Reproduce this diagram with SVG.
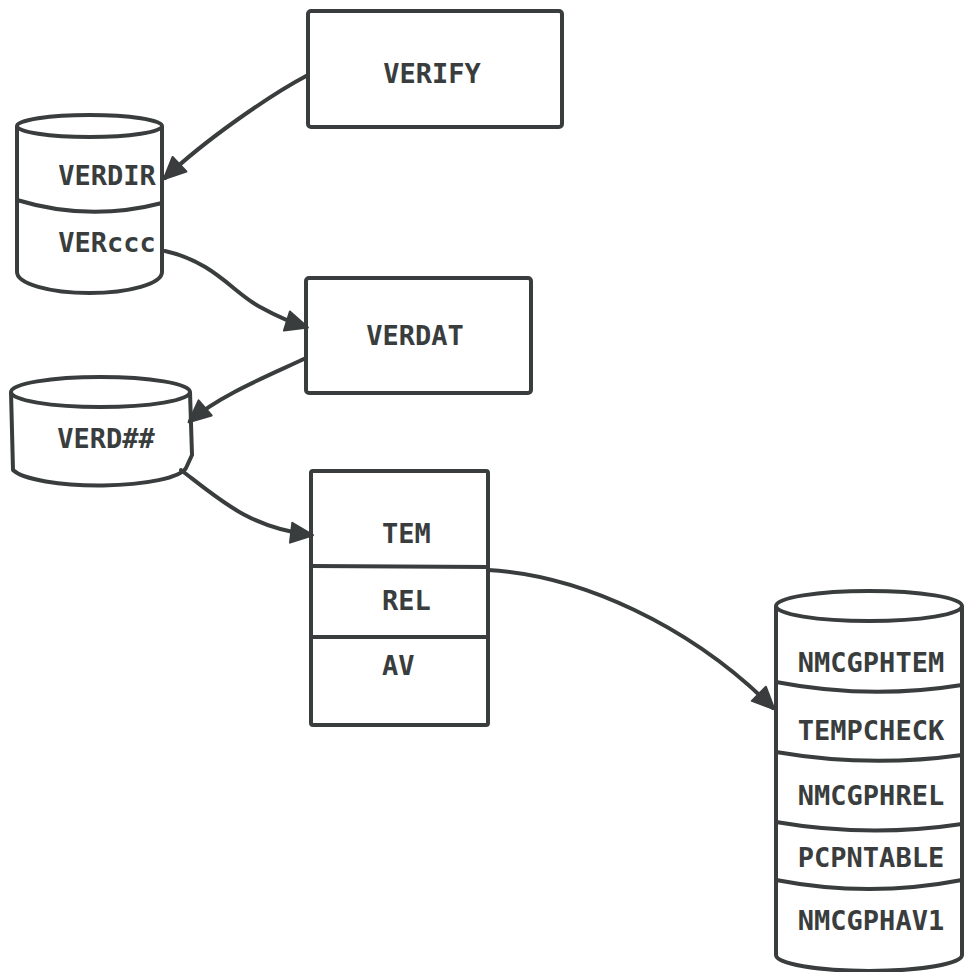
<svg xmlns="http://www.w3.org/2000/svg" width="964" height="972" viewBox="0 0 964 972">
<defs>
<style>
.s{fill:none;stroke:#3a3d3d;stroke-width:4;stroke-linejoin:round;stroke-linecap:round}
.f{fill:#fff;stroke:#3a3d3d;stroke-width:4;stroke-linejoin:round}
.t{font-family:"DejaVu Sans Mono","Liberation Mono",monospace;font-weight:bold;font-size:27px;fill:#3a3d3d}
.c{text-anchor:middle}
</style>
<marker id="ah" markerUnits="userSpaceOnUse" markerWidth="26" markerHeight="24" refX="20" refY="12" orient="auto" overflow="visible">
<path d="M0,2 L22,12 L0,22 Z" fill="#3a3d3d" stroke="#3a3d3d" stroke-width="2" stroke-linejoin="round"/>
</marker>
</defs>
<rect width="964" height="972" fill="#fff"/>

<g id="verify">
<rect class="f" x="308" y="11" width="254" height="116" rx="3"/>
<text class="t c" x="432" y="83">VERIFY</text>
</g>

<g id="verdir">
<path class="f" d="M17,126 L17,272 A72.5 21 0 0 0 162,272 L162,126"/>
<ellipse class="f" cx="89.5" cy="126" rx="72.5" ry="11"/>
<path class="s" d="M17,200 Q89,222 162,203"/>
<text class="t c" x="107" y="185">VERDIR</text>
<text class="t c" x="107" y="252">VERccc</text>
</g>

<g id="verdat">
<rect class="f" x="306" y="278" width="225" height="115" rx="3"/>
<text class="t c" x="415" y="345">VERDAT</text>
</g>

<g id="verdnn">
<path class="f" d="M11,392 L13,470 A88 20 0 0 0 186,468 L192,455 L190,392"/>
<ellipse class="f" cx="100.5" cy="392" rx="89.5" ry="15"/>
<text class="t c" x="106" y="448">VERD##</text>
</g>

<g id="temrelav">
<rect class="f" x="311" y="471" width="177" height="254" rx="2"/>
<path class="s" d="M311,566 L488,567 M311,637 L488,637"/>
<text class="t" x="382" y="543">TEM</text>
<text class="t" x="382" y="610">REL</text>
<text class="t" x="382" y="675">AV</text>
</g>

<g id="nmcgp">
<path class="f" d="M776,606 L776,955 A93 16 0 0 0 962,955 L962,606"/>
<ellipse class="f" cx="869" cy="606" rx="93" ry="15"/>
<path class="s" d="M776,682 Q869,700 962,685 M776,752 Q869,768 962,755 M776,822 Q869,838 962,824 M776,880 Q869,898 962,880"/>
<text class="t c" x="871" y="672">NMCGPHTEM</text>
<text class="t c" x="871" y="740">TEMPCHECK</text>
<text class="t c" x="871" y="805">NMCGPHREL</text>
<text class="t c" x="871" y="867">PCPNTABLE</text>
<text class="t c" x="871" y="930">NMCGPHAV1</text>
</g>

<g id="connectors">
<path class="s" marker-end="url(#ah)" d="M308,75 C270,95 205,140 165,178"/>
<path class="s" marker-end="url(#ah)" d="M165,251 C215,262 235,295 262,308 C280,318 290,322 306,327"/>
<path class="s" marker-end="url(#ah)" d="M306,358 C270,375 220,395 190,421"/>
<path class="s" marker-end="url(#ah)" d="M181,470 C220,500 250,528 311,535"/>
<path class="s" marker-end="url(#ah)" d="M488,570 C580,575 690,625 773,708"/>
</g>
</svg>
